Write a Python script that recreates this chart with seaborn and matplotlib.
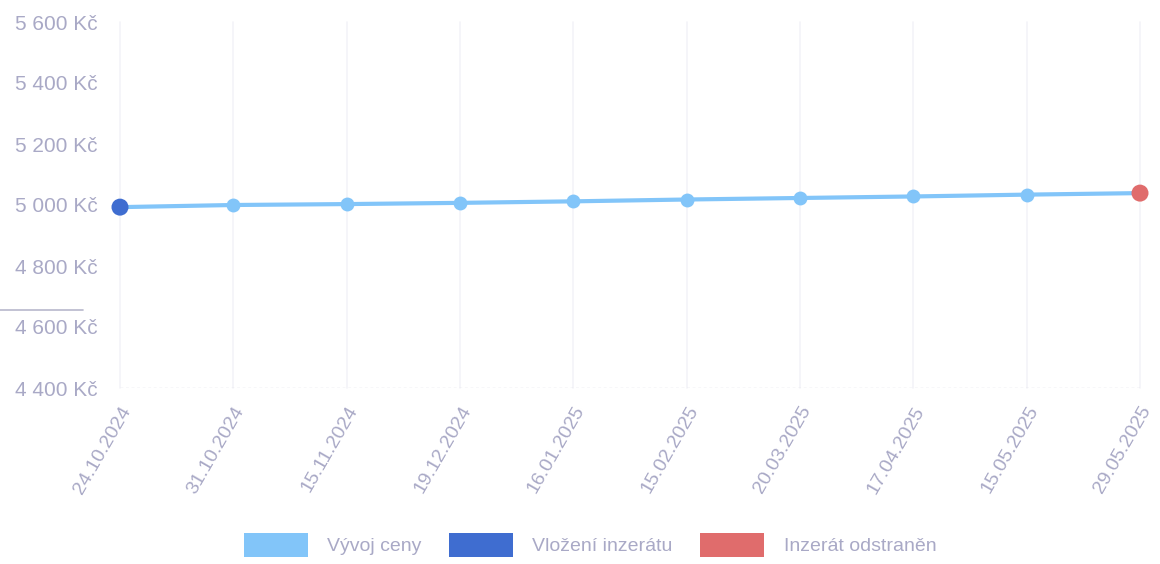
import pandas as pd
import seaborn as sns
import matplotlib.pyplot as plt
from matplotlib.patches import Patch
from matplotlib.lines import Line2D

# Data
dates = ["24.10.2024", "31.10.2024", "15.11.2024", "19.12.2024", "16.01.2025",
         "15.02.2025", "20.03.2025", "17.04.2025", "15.05.2025", "29.05.2025"]
prices = [4993, 5000, 5003, 5007, 5012, 5018, 5023, 5028, 5034, 5039]
y_ticks = [4400, 4600, 4800, 5000, 5200, 5400, 5600]
legend_labels = ["Vývoj ceny", "Vložení inzerátu", "Inzerát odstraněn"]

light_blue = "#82c5f9"
dark_blue = "#3f6dd0"
red = "#e06c6c"
text_col = "#a9a9c6"

sns.set_style("white")
plt.rcParams["font.family"] = ["Liberation Sans", "DejaVu Sans"]

df = pd.DataFrame({"date": dates, "price": prices, "pos": range(len(dates))})

fig = plt.figure(figsize=(11.6, 5.64), dpi=100)
ax = fig.add_axes([120 / 1160, 1 - 388 / 564, 1020 / 1160, 366 / 564])

# faint vertical grid
for p in df["pos"]:
    ax.axvline(p, color="#f4f4f8", linewidth=1.2, zorder=0)

sns.lineplot(data=df, x="pos", y="price", ax=ax, color=light_blue, linewidth=3,
             marker="o", markersize=10, markeredgewidth=0, zorder=3)
sns.scatterplot(data=df.iloc[[0]], x="pos", y="price", ax=ax, color=dark_blue,
                s=150, edgecolor="none", zorder=4)
sns.scatterplot(data=df.iloc[[-1]], x="pos", y="price", ax=ax, color=red,
                s=150, edgecolor="none", zorder=4)
for art in ax.collections + ax.lines:
    art.set_clip_on(False)

ax.axhline(4400, color="#d8d8e2", linewidth=1, linestyle=(0, (2, 2)), zorder=1)

ax.set_xlim(0, len(dates) - 1)
ax.set_ylim(4400, 5600)
ax.set_yticks(y_ticks)
ax.set_yticklabels([f"{v // 1000} {v % 1000:03d} Kč" for v in y_ticks])
ax.set_xticks(df["pos"])
ax.set_xticklabels(dates, rotation=60, ha="right", rotation_mode="anchor")
ax.tick_params(axis="y", labelsize=15, labelcolor=text_col, length=0, pad=16)
ax.tick_params(axis="x", labelsize=14, labelcolor=text_col, length=0, pad=11)
ax.set_xlabel("")
ax.set_ylabel("")
for s in ax.spines.values():
    s.set_visible(False)

# small stray rule at left
fig.add_artist(Line2D([0, 83 / 1160], [1 - 310 / 564, 1 - 310 / 564],
                      color="#b8b8cc", linewidth=1.2))

handles = [Patch(facecolor=c, edgecolor="none") for c in (light_blue, dark_blue, red)]
fig.legend(handles, legend_labels, loc="center", bbox_to_anchor=(590 / 1160, 1 - 545 / 564),
           ncol=3, frameon=False, fontsize=14, labelcolor=text_col,
           handlelength=3.3, handleheight=1.6, handletextpad=1.0, columnspacing=1.4)

fig.savefig("out.png", dpi=100)
